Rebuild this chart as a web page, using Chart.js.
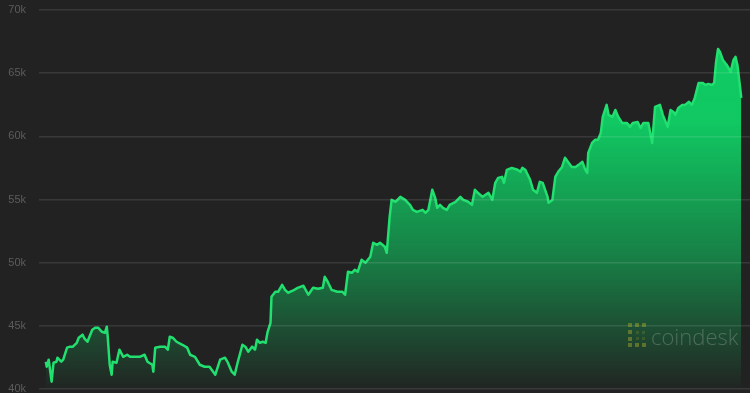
<!DOCTYPE html>
<html>
<head>
<meta charset="utf-8">
<script src="https://cdn.jsdelivr.net/npm/chart.js@4.4.1/dist/chart.umd.min.js"></script>
<style>
    html, body { margin: 0; padding: 0; background: #222222; }
    canvas { display: block; }
</style>
</head>
<body>
<canvas id="priceChart" width="750" height="393"></canvas>
<script>
// Hours since start of the window
const hours = [
    1, 2, 4, 7, 9, 12, 13, 17, 19, 23, 26, 29, 33, 35, 39, 41, 44, 49, 52, 55,
    59, 62, 64, 65, 67, 69, 70, 74, 77, 81, 85, 88, 93, 98, 103, 106, 111, 112, 114, 119,
    124, 127, 129, 132, 136, 142, 147, 150, 155, 160, 165, 170, 176, 181, 186, 189, 193, 196, 199, 204,
    207, 210, 214, 217, 219, 222, 225, 228, 230, 233, 234, 238, 241, 245, 248, 251, 256, 261, 267, 272,
    277, 282, 287, 289, 292, 296, 302, 307, 310, 313, 317, 320, 323, 327, 331, 336, 339, 343, 346, 351,
    353, 356, 358, 362, 367, 372, 377, 380, 384, 390, 393, 396, 400, 403, 405, 408, 411, 415, 418, 424,
    429, 432, 437, 441, 444, 447, 452, 455, 458, 462, 465, 468, 472, 474, 477, 482, 488, 491, 493, 496,
    501, 504, 508, 511, 514, 519, 520, 524, 527, 530, 534, 537, 540, 544, 548, 551, 555, 558, 560, 561,
    565, 568, 571, 574, 576, 580, 582, 586, 589, 592, 596, 601, 604, 607, 612, 615, 618, 623, 627, 630,
    635, 638, 643, 646, 649, 651, 654, 658, 661, 665, 668, 671, 675, 679, 682, 685, 689, 691, 693, 695,
    697, 700, 704, 708, 711, 713, 715, 716, 719
];

// BTC price in USD
const prices = [
    42160, 41760, 42320, 40580, 42080, 42160, 42480, 42160, 42320, 43270, 43350, 43350, 43660, 44060, 44300, 43980, 43740, 44690, 44850, 44850,
    44530, 44450, 44930, 44060, 41920, 41130, 42160, 42080, 43110, 42550, 42710, 42550, 42550, 42550, 42710, 42160, 41920, 41370, 43270, 43350,
    43350, 43110, 44140, 44060, 43740, 43500, 43270, 42710, 42550, 41920, 41760, 41760, 41130, 42320, 42480, 42080, 41370, 41130, 42080, 43500,
    43350, 42950, 43350, 43110, 43900, 43660, 43740, 43660, 44530, 45240, 47300, 47700, 47700, 48250, 47850, 47620, 47780, 48010, 48170, 47460,
    48010, 47930, 48010, 48880, 48490, 47850, 47700, 47700, 47460, 49280, 49200, 49440, 49280, 50230, 49990, 50470, 51570, 51410, 51570, 51260,
    50780, 53630, 54970, 54820, 55210, 54970, 54580, 54180, 54020, 54180, 53950, 54180, 55770, 55130, 54340, 54580, 54340, 54180, 54580, 54820,
    55210, 54970, 54820, 54580, 55770, 55530, 55210, 55370, 55530, 54970, 56320, 56710, 56790, 56320, 57350, 57500, 57350, 57190, 57500, 57350,
    56560, 55770, 55530, 56400, 56320, 55210, 54740, 54970, 56790, 57190, 57580, 58300, 57980, 57580, 57580, 57740, 57980, 57350, 57110, 58690,
    59480, 59720, 59720, 60270, 61540, 62490, 61700, 61540, 62090, 61540, 61060, 61060, 60750, 61060, 61140, 60670, 61060, 61060, 59480, 62330,
    62490, 61700, 60750, 62090, 61930, 61700, 62250, 62490, 62490, 62730, 62490, 63040, 64230, 64230, 64070, 64150, 64070, 64230, 65890, 66920,
    66680, 66050, 65650, 65100, 66050, 66290, 65650, 65020, 63040
];

// Y axis ticks
const tickValues = [40000, 45000, 50000, 55000, 60000, 65000, 70000];
const tickLabels = ['40k', '45k', '50k', '55k', '60k', '65k', '70k'];

let priceChart = null;

// Vertical green fade under the line
function areaGradient(context) {
    const chart = context.chart;
    const area = chart.chartArea;
    if (!area) return 'rgba(16, 205, 100, 0.5)';
    const g = chart.ctx.createLinearGradient(0, area.top, 0, area.bottom);
    g.addColorStop(0, 'rgba(16, 205, 100, 1)');
    g.addColorStop(0.3, 'rgba(16, 205, 100, 0.97)');
    g.addColorStop(0.65, 'rgba(16, 205, 100, 0.55)');
    g.addColorStop(1, 'rgba(16, 205, 100, 0.02)');
    return g;
}

// coindesk watermark
const watermark = {
    id: 'watermark',
    afterDraw(chart) {
        const ctx = chart.ctx;
        ctx.save();
        // logo bracket
        ctx.fillStyle = 'rgba(190, 185, 40, 0.4)';
        const sq = 4;
        [[628, 323], [635, 323], [642, 323],
         [628, 330], [628, 337],
         [628, 343], [635, 343], [642, 343]].forEach(p => ctx.fillRect(p[0], p[1], sq, sq));
        ctx.fillStyle = 'rgba(190, 185, 40, 0.18)';
        [[636, 331], [642, 331], [636, 337], [642, 337]].forEach(p => ctx.fillRect(p[0], p[1], 3, 3));
        // wordmark
        ctx.fillStyle = 'rgba(200, 210, 200, 0.28)';
        ctx.font = '300 22px "Open Sans", "Liberation Sans", sans-serif';
        ctx.textBaseline = 'alphabetic';
        ctx.textAlign = 'left';
        ctx.fillText('coindesk', 651, 345);
        ctx.restore();
    }
};

function initChart() {
    const canvas = document.getElementById('priceChart');
    if (!canvas) return;

    priceChart = new Chart(canvas, {
        type: 'line',
        data: {
            datasets: [{
                label: 'BTC',
                data: hours.map((h, i) => ({ x: h, y: prices[i] })),
                borderColor: '#22e070',
                borderWidth: 2.5,
                backgroundColor: areaGradient,
                fill: 'start',
                tension: 0,
                pointRadius: 0,
                borderJoinStyle: 'round'
            }]
        },
        options: {
            responsive: false,
            animation: false,
            layout: {
                padding: { top: 10, bottom: 4, left: 0, right: 0 }
            },
            plugins: {
                legend: { display: false },
                tooltip: { enabled: false }
            },
            scales: {
                x: {
                    type: 'linear',
                    display: false,
                    min: -6,
                    max: 728
                },
                y: {
                    min: 40000,
                    max: 70000,
                    border: { display: false },
                    grid: {
                        color: 'rgba(255, 255, 255, 0.1)',
                        lineWidth: 1.5,
                        drawTicks: false,
                        z: 1
                    },
                    afterBuildTicks: (scale) => {
                        scale.ticks = tickValues.map(v => ({ value: v }));
                    },
                    afterFit: (scale) => {
                        scale.width = 39;
                        scale.paddingTop = 0;
                        scale.paddingBottom = 0;
                    },
                    ticks: {
                        padding: 13,
                        color: '#5c5c5c',
                        font: {
                            family: '"Liberation Sans", Arial, sans-serif',
                            size: 11
                        },
                        callback: function(value) {
                            const i = tickValues.indexOf(value);
                            return i >= 0 ? tickLabels[i] : '';
                        }
                    }
                }
            }
        },
        plugins: [watermark]
    });
}

initChart();
</script>
</body>
</html>
